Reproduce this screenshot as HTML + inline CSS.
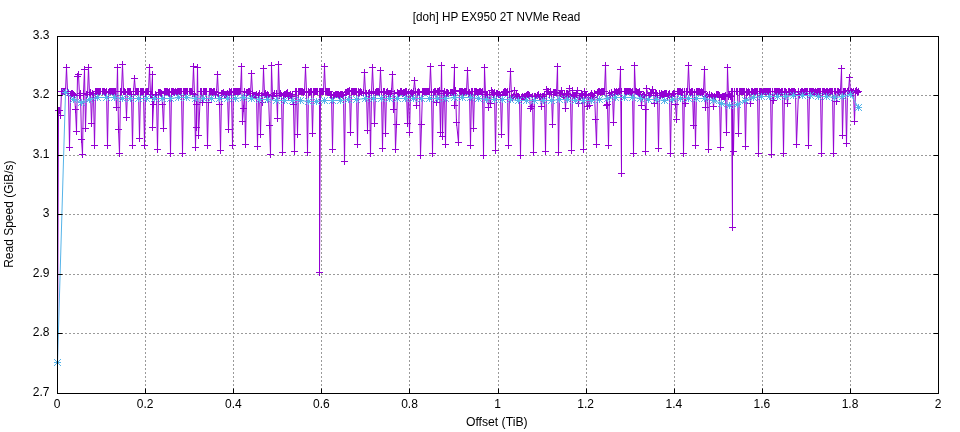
<!DOCTYPE html>
<html>
<head>
<meta charset="utf-8">
<title>[doh] HP EX950 2T NVMe Read</title>
<style>
html, body { margin: 0; padding: 0; background: #fff; }
body { width: 960px; height: 432px; overflow: hidden; font-family: "Liberation Sans", sans-serif; }
svg { display: block; will-change: transform; }
</style>
</head>
<body>
<svg width="960" height="432" viewBox="0 0 960 432">
<rect width="960" height="432" fill="#fff"/>
<path d="M145.5 394.0V36.5M233.5 394.0V36.5M321.5 394.0V36.5M409.5 394.0V36.5M498.5 394.0V36.5M586.5 394.0V36.5M674.5 394.0V36.5M762.5 394.0V36.5M850.5 394.0V36.5" stroke="#9a9a9a" stroke-width="1" stroke-dasharray="2 2" fill="none"/>
<path d="M57.0 333.5H938.5M57.0 274.5H938.5M57.0 214.5H938.5M57.0 155.5H938.5M57.0 95.5H938.5" stroke="#9a9a9a" stroke-width="1" stroke-dasharray="2 2" fill="none"/>
<path d="M57.5 362.5L58.5 110.5L59.5 110.5L60.5 115.5L61.5 91.5L62.5 91.5L63.5 91.5L64.5 91.5L65.5 91.5L66.5 67.5L67.5 91.5L68.5 93.5L69.5 147.5L70.5 95.5L71.5 93.5L72.5 93.5L73.5 94.5L74.5 95.5L75.5 109.5L76.5 131.5L77.5 76.5L78.5 74.5L79.5 95.5L80.5 93.5L81.5 139.5L82.5 154.5L83.5 93.5L84.5 69.5L85.5 128.5L86.5 94.5L87.5 94.5L88.5 67.5L89.5 94.5L90.5 92.5L91.5 123.5L92.5 93.5L93.5 94.5L94.5 145.5L95.5 91.5L96.5 91.5L97.5 91.5L98.5 91.5L99.5 91.5L100.5 91.5L102.5 91.5L103.5 91.5L104.5 91.5L105.5 92.5L106.5 91.5L107.5 145.5L108.5 92.5L109.5 91.5L110.5 91.5L111.5 91.5L112.5 91.5L113.5 91.5L114.5 91.5L115.5 91.5L116.5 107.5L117.5 67.5L118.5 129.5L119.5 153.5L120.5 91.5L121.5 91.5L122.5 64.5L123.5 91.5L124.5 91.5L125.5 92.5L126.5 117.5L127.5 91.5L128.5 91.5L129.5 91.5L130.5 91.5L131.5 94.5L132.5 145.5L133.5 91.5L134.5 78.5L135.5 91.5L136.5 91.5L137.5 91.5L138.5 91.5L139.5 138.5L140.5 91.5L141.5 91.5L142.5 91.5L143.5 91.5L144.5 145.5L145.5 92.5L146.5 91.5L147.5 91.5L148.5 91.5L149.5 67.5L150.5 94.5L151.5 94.5L152.5 74.5L152.5 127.5L153.5 104.5L155.5 94.5L156.5 95.5L157.5 149.5L158.5 92.5L159.5 92.5L160.5 92.5L161.5 93.5L162.5 104.5L163.5 128.5L164.5 91.5L165.5 91.5L166.5 91.5L167.5 91.5L168.5 92.5L169.5 91.5L170.5 153.5L171.5 91.5L172.5 91.5L173.5 91.5L174.5 92.5L175.5 91.5L176.5 92.5L177.5 91.5L178.5 91.5L179.5 91.5L180.5 91.5L181.5 91.5L182.5 153.5L183.5 91.5L184.5 91.5L185.5 91.5L186.5 91.5L187.5 91.5L189.5 91.5L190.5 91.5L191.5 91.5L192.5 93.5L193.5 66.5L194.5 94.5L195.5 147.5L196.5 104.5L196.5 127.5L197.5 67.5L198.5 135.5L200.5 91.5L201.5 91.5L202.5 102.5L203.5 91.5L204.5 91.5L205.5 91.5L206.5 91.5L207.5 145.5L208.5 102.5L209.5 91.5L210.5 91.5L211.5 91.5L212.5 92.5L213.5 91.5L214.5 91.5L215.5 94.5L216.5 92.5L217.5 74.5L218.5 95.5L219.5 104.5L220.5 150.5L221.5 93.5L222.5 93.5L223.5 92.5L224.5 94.5L225.5 94.5L226.5 95.5L227.5 93.5L228.5 129.5L229.5 91.5L230.5 92.5L231.5 91.5L232.5 145.5L233.5 91.5L234.5 91.5L235.5 91.5L236.5 91.5L237.5 91.5L238.5 91.5L239.5 91.5L240.5 91.5L241.5 66.5L242.5 121.5L243.5 108.5L244.5 91.5L245.5 144.5L246.5 92.5L247.5 92.5L248.5 91.5L249.5 91.5L250.5 93.5L251.5 73.5L252.5 93.5L253.5 95.5L254.5 95.5L255.5 95.5L256.5 94.5L257.5 146.5L258.5 95.5L259.5 93.5L260.5 134.5L261.5 95.5L262.5 102.5L263.5 68.5L264.5 94.5L265.5 93.5L266.5 95.5L267.5 94.5L268.5 95.5L269.5 125.5L270.5 154.5L271.5 65.5L272.5 96.5L273.5 95.5L274.5 93.5L276.5 93.5L277.5 118.5L278.5 64.5L279.5 95.5L280.5 93.5L281.5 95.5L282.5 152.5L283.5 95.5L284.5 94.5L285.5 94.5L286.5 93.5L287.5 92.5L288.5 96.5L289.5 95.5L290.5 94.5L291.5 96.5L292.5 94.5L293.5 104.5L294.5 151.5L295.5 91.5L296.5 91.5L297.5 134.5L298.5 91.5L299.5 91.5L300.5 91.5L301.5 91.5L302.5 91.5L303.5 92.5L304.5 91.5L305.5 67.5L306.5 91.5L307.5 152.5L308.5 91.5L309.5 92.5L310.5 91.5L311.5 91.5L312.5 133.5L313.5 91.5L314.5 91.5L315.5 91.5L316.5 91.5L317.5 91.5L319.5 91.5L319.5 272.5L320.5 91.5L321.5 91.5L322.5 91.5L323.5 91.5L324.5 66.5L325.5 91.5L326.5 91.5L327.5 91.5L328.5 91.5L329.5 91.5L330.5 95.5L331.5 94.5L332.5 149.5L333.5 95.5L334.5 95.5L335.5 94.5L336.5 94.5L337.5 94.5L338.5 94.5L339.5 95.5L340.5 94.5L341.5 94.5L342.5 94.5L343.5 95.5L344.5 161.5L345.5 92.5L346.5 92.5L347.5 91.5L348.5 91.5L349.5 90.5L350.5 132.5L351.5 91.5L352.5 91.5L353.5 91.5L354.5 91.5L355.5 91.5L356.5 91.5L357.5 144.5L358.5 91.5L359.5 92.5L360.5 91.5L361.5 92.5L363.5 92.5L364.5 72.5L365.5 93.5L366.5 93.5L367.5 130.5L368.5 93.5L369.5 92.5L370.5 153.5L371.5 93.5L372.5 67.5L373.5 91.5L374.5 123.5L375.5 92.5L376.5 91.5L377.5 91.5L378.5 91.5L379.5 92.5L380.5 70.5L381.5 92.5L382.5 148.5L383.5 91.5L384.5 91.5L385.5 133.5L386.5 92.5L387.5 91.5L388.5 93.5L389.5 93.5L390.5 93.5L391.5 91.5L392.5 74.5L393.5 109.5L394.5 93.5L395.5 149.5L396.5 124.5L397.5 92.5L398.5 93.5L399.5 93.5L400.5 91.5L401.5 91.5L402.5 93.5L403.5 92.5L404.5 92.5L405.5 91.5L406.5 91.5L407.5 123.5L408.5 92.5L409.5 132.5L410.5 93.5L411.5 92.5L412.5 93.5L413.5 91.5L414.5 80.5L415.5 91.5L416.5 105.5L417.5 92.5L418.5 91.5L419.5 92.5L420.5 155.5L421.5 124.5L422.5 91.5L423.5 91.5L424.5 91.5L425.5 91.5L426.5 91.5L427.5 91.5L428.5 91.5L429.5 91.5L430.5 66.5L431.5 92.5L432.5 153.5L433.5 92.5L434.5 91.5L435.5 91.5L436.5 102.5L437.5 91.5L438.5 91.5L439.5 90.5L440.5 132.5L441.5 65.5L442.5 136.5L443.5 93.5L444.5 91.5L445.5 144.5L446.5 92.5L447.5 92.5L448.5 93.5L450.5 92.5L451.5 92.5L452.5 92.5L453.5 93.5L454.5 67.5L454.5 105.5L455.5 90.5L456.5 122.5L458.5 142.5L459.5 91.5L460.5 91.5L461.5 91.5L462.5 91.5L463.5 92.5L464.5 91.5L465.5 91.5L466.5 91.5L467.5 70.5L468.5 93.5L469.5 92.5L470.5 145.5L471.5 91.5L472.5 91.5L473.5 128.5L474.5 91.5L475.5 91.5L476.5 91.5L477.5 92.5L478.5 92.5L479.5 91.5L480.5 91.5L481.5 92.5L482.5 91.5L483.5 155.5L484.5 67.5L485.5 94.5L486.5 94.5L487.5 94.5L488.5 107.5L489.5 94.5L490.5 103.5L491.5 90.5L492.5 92.5L493.5 94.5L494.5 92.5L495.5 150.5L496.5 93.5L497.5 93.5L498.5 94.5L499.5 94.5L500.5 95.5L501.5 134.5L502.5 95.5L503.5 92.5L504.5 91.5L505.5 91.5L506.5 92.5L507.5 91.5L508.5 145.5L509.5 91.5L510.5 71.5L511.5 97.5L512.5 97.5L513.5 96.5L514.5 90.5L515.5 97.5L516.5 94.5L517.5 96.5L518.5 96.5L519.5 97.5L520.5 155.5L521.5 97.5L522.5 96.5L523.5 97.5L524.5 96.5L525.5 96.5L526.5 95.5L527.5 94.5L528.5 94.5L529.5 95.5L530.5 108.5L531.5 106.5L532.5 96.5L533.5 152.5L534.5 96.5L535.5 96.5L537.5 95.5L538.5 94.5L539.5 97.5L540.5 96.5L541.5 106.5L542.5 96.5L543.5 96.5L544.5 94.5L545.5 151.5L546.5 89.5L547.5 91.5L548.5 91.5L549.5 94.5L550.5 91.5L551.5 94.5L552.5 124.5L553.5 92.5L554.5 92.5L555.5 92.5L556.5 93.5L557.5 66.5L558.5 152.5L559.5 93.5L560.5 93.5L561.5 90.5L562.5 94.5L563.5 96.5L564.5 94.5L565.5 108.5L566.5 93.5L567.5 93.5L568.5 94.5L569.5 88.5L570.5 96.5L571.5 150.5L572.5 90.5L573.5 95.5L574.5 95.5L575.5 95.5L576.5 93.5L577.5 90.5L578.5 103.5L579.5 97.5L580.5 97.5L581.5 93.5L582.5 95.5L583.5 149.5L584.5 91.5L585.5 95.5L586.5 94.5L587.5 106.5L588.5 97.5L589.5 105.5L590.5 95.5L591.5 93.5L592.5 95.5L593.5 97.5L594.5 93.5L595.5 119.5L596.5 144.5L597.5 92.5L598.5 91.5L599.5 91.5L600.5 92.5L601.5 91.5L602.5 91.5L603.5 91.5L604.5 91.5L605.5 65.5L606.5 105.5L607.5 104.5L608.5 145.5L609.5 93.5L610.5 95.5L611.5 92.5L612.5 94.5L613.5 122.5L614.5 91.5L615.5 92.5L616.5 91.5L617.5 92.5L618.5 91.5L619.5 91.5L620.5 69.5L621.5 173.5L621.5 91.5L624.5 91.5L625.5 91.5L626.5 91.5L627.5 91.5L628.5 91.5L629.5 91.5L630.5 91.5L631.5 92.5L632.5 91.5L633.5 153.5L634.5 65.5L635.5 91.5L636.5 91.5L637.5 92.5L638.5 92.5L639.5 91.5L640.5 95.5L641.5 105.5L642.5 96.5L643.5 94.5L644.5 95.5L645.5 109.5L645.5 151.5L646.5 88.5L648.5 95.5L649.5 95.5L650.5 93.5L651.5 92.5L652.5 89.5L653.5 93.5L654.5 103.5L655.5 93.5L656.5 93.5L657.5 95.5L658.5 148.5L659.5 93.5L660.5 95.5L661.5 93.5L662.5 94.5L663.5 94.5L664.5 93.5L665.5 93.5L666.5 93.5L667.5 96.5L668.5 94.5L669.5 93.5L670.5 153.5L671.5 96.5L672.5 94.5L673.5 93.5L674.5 93.5L675.5 104.5L676.5 119.5L677.5 91.5L678.5 91.5L679.5 91.5L680.5 91.5L681.5 92.5L682.5 91.5L683.5 153.5L684.5 91.5L685.5 103.5L686.5 91.5L687.5 91.5L688.5 65.5L689.5 91.5L690.5 92.5L691.5 91.5L692.5 91.5L693.5 125.5L694.5 92.5L695.5 145.5L696.5 91.5L697.5 91.5L698.5 91.5L699.5 91.5L700.5 92.5L701.5 91.5L702.5 92.5L703.5 91.5L704.5 69.5L705.5 107.5L706.5 96.5L707.5 95.5L708.5 149.5L709.5 94.5L711.5 95.5L712.5 96.5L713.5 106.5L714.5 96.5L715.5 97.5L716.5 94.5L717.5 94.5L718.5 94.5L719.5 95.5L720.5 147.5L721.5 97.5L722.5 96.5L723.5 96.5L724.5 96.5L725.5 95.5L726.5 132.5L727.5 67.5L728.5 96.5L729.5 94.5L730.5 96.5L731.5 91.5L732.5 227.5L732.5 91.5L733.5 151.5L734.5 91.5L736.5 91.5L737.5 91.5L738.5 133.5L739.5 91.5L740.5 91.5L741.5 91.5L742.5 91.5L743.5 91.5L744.5 91.5L745.5 146.5L746.5 91.5L747.5 92.5L748.5 91.5L749.5 92.5L750.5 103.5L751.5 91.5L752.5 91.5L753.5 92.5L754.5 91.5L755.5 91.5L756.5 91.5L757.5 91.5L758.5 153.5L759.5 91.5L760.5 91.5L761.5 91.5L762.5 92.5L763.5 91.5L764.5 91.5L765.5 91.5L766.5 91.5L767.5 91.5L768.5 91.5L769.5 91.5L770.5 91.5L771.5 154.5L772.5 91.5L773.5 100.5L774.5 91.5L775.5 91.5L776.5 91.5L777.5 91.5L778.5 91.5L779.5 91.5L780.5 92.5L781.5 91.5L782.5 91.5L783.5 153.5L784.5 91.5L785.5 91.5L786.5 92.5L787.5 103.5L788.5 91.5L789.5 91.5L790.5 92.5L791.5 91.5L792.5 91.5L793.5 91.5L794.5 91.5L795.5 92.5L796.5 144.5L798.5 91.5L799.5 94.5L800.5 92.5L801.5 91.5L802.5 91.5L803.5 92.5L804.5 91.5L805.5 91.5L806.5 91.5L807.5 91.5L808.5 145.5L809.5 91.5L810.5 91.5L811.5 91.5L812.5 91.5L813.5 91.5L814.5 92.5L815.5 91.5L816.5 92.5L817.5 91.5L818.5 91.5L819.5 91.5L820.5 91.5L821.5 153.5L822.5 91.5L823.5 91.5L824.5 91.5L825.5 92.5L826.5 91.5L827.5 91.5L828.5 92.5L829.5 91.5L830.5 91.5L831.5 91.5L832.5 91.5L833.5 153.5L834.5 91.5L835.5 91.5L836.5 101.5L837.5 91.5L838.5 91.5L839.5 92.5L840.5 91.5L841.5 68.5L842.5 135.5L843.5 91.5L844.5 91.5L845.5 91.5L846.5 143.5L847.5 91.5L848.5 90.5L849.5 77.5L850.5 92.5L851.5 91.5L852.5 92.5L853.5 91.5L854.5 121.5L855.5 91.5L856.5 90.5L857.5 92.5L858.5 91.5" stroke="#9400d3" stroke-width="1" fill="none" stroke-linejoin="round"/>
<path d="M54 362.5h7M57.5 359v7M55 110.5h7M58.5 107v7M56 110.5h7M59.5 107v7M57 115.5h7M60.5 112v7M58 91.5h7M61.5 88v7M59 91.5h7M62.5 88v7M60 91.5h7M63.5 88v7M61 91.5h7M64.5 88v7M62 91.5h7M65.5 88v7M63 67.5h7M66.5 64v7M64 91.5h7M67.5 88v7M65 93.5h7M68.5 90v7M66 147.5h7M69.5 144v7M67 95.5h7M70.5 92v7M68 93.5h7M71.5 90v7M69 93.5h7M72.5 90v7M70 94.5h7M73.5 91v7M71 95.5h7M74.5 92v7M72 109.5h7M75.5 106v7M73 131.5h7M76.5 128v7M74 76.5h7M77.5 73v7M75 74.5h7M78.5 71v7M76 95.5h7M79.5 92v7M77 93.5h7M80.5 90v7M78 139.5h7M81.5 136v7M79 154.5h7M82.5 151v7M80 93.5h7M83.5 90v7M81 69.5h7M84.5 66v7M82 128.5h7M85.5 125v7M83 94.5h7M86.5 91v7M84 94.5h7M87.5 91v7M85 67.5h7M88.5 64v7M86 94.5h7M89.5 91v7M87 92.5h7M90.5 89v7M88 123.5h7M91.5 120v7M89 93.5h7M92.5 90v7M90 94.5h7M93.5 91v7M91 145.5h7M94.5 142v7M92 91.5h7M95.5 88v7M93 91.5h7M96.5 88v7M94 91.5h7M97.5 88v7M95 91.5h7M98.5 88v7M96 91.5h7M99.5 88v7M97 91.5h7M100.5 88v7M99 91.5h7M102.5 88v7M100 91.5h7M103.5 88v7M101 91.5h7M104.5 88v7M102 92.5h7M105.5 89v7M103 91.5h7M106.5 88v7M104 145.5h7M107.5 142v7M105 92.5h7M108.5 89v7M106 91.5h7M109.5 88v7M107 91.5h7M110.5 88v7M108 91.5h7M111.5 88v7M109 91.5h7M112.5 88v7M110 91.5h7M113.5 88v7M111 91.5h7M114.5 88v7M112 91.5h7M115.5 88v7M113 107.5h7M116.5 104v7M114 67.5h7M117.5 64v7M115 129.5h7M118.5 126v7M116 153.5h7M119.5 150v7M117 91.5h7M120.5 88v7M118 91.5h7M121.5 88v7M119 64.5h7M122.5 61v7M120 91.5h7M123.5 88v7M121 91.5h7M124.5 88v7M122 92.5h7M125.5 89v7M123 117.5h7M126.5 114v7M124 91.5h7M127.5 88v7M125 91.5h7M128.5 88v7M126 91.5h7M129.5 88v7M127 91.5h7M130.5 88v7M128 94.5h7M131.5 91v7M129 145.5h7M132.5 142v7M130 91.5h7M133.5 88v7M131 78.5h7M134.5 75v7M132 91.5h7M135.5 88v7M133 91.5h7M136.5 88v7M134 91.5h7M137.5 88v7M135 91.5h7M138.5 88v7M136 138.5h7M139.5 135v7M137 91.5h7M140.5 88v7M138 91.5h7M141.5 88v7M139 91.5h7M142.5 88v7M140 91.5h7M143.5 88v7M141 145.5h7M144.5 142v7M142 92.5h7M145.5 89v7M143 91.5h7M146.5 88v7M144 91.5h7M147.5 88v7M145 91.5h7M148.5 88v7M146 67.5h7M149.5 64v7M147 94.5h7M150.5 91v7M148 94.5h7M151.5 91v7M149 74.5h7M152.5 71v7M149 127.5h7M152.5 124v7M150 104.5h7M153.5 101v7M152 94.5h7M155.5 91v7M153 95.5h7M156.5 92v7M154 149.5h7M157.5 146v7M155 92.5h7M158.5 89v7M156 92.5h7M159.5 89v7M157 92.5h7M160.5 89v7M158 93.5h7M161.5 90v7M159 104.5h7M162.5 101v7M160 128.5h7M163.5 125v7M161 91.5h7M164.5 88v7M162 91.5h7M165.5 88v7M163 91.5h7M166.5 88v7M164 91.5h7M167.5 88v7M165 92.5h7M168.5 89v7M166 91.5h7M169.5 88v7M167 153.5h7M170.5 150v7M168 91.5h7M171.5 88v7M169 91.5h7M172.5 88v7M170 91.5h7M173.5 88v7M171 92.5h7M174.5 89v7M172 91.5h7M175.5 88v7M173 92.5h7M176.5 89v7M174 91.5h7M177.5 88v7M175 91.5h7M178.5 88v7M176 91.5h7M179.5 88v7M177 91.5h7M180.5 88v7M178 91.5h7M181.5 88v7M179 153.5h7M182.5 150v7M180 91.5h7M183.5 88v7M181 91.5h7M184.5 88v7M182 91.5h7M185.5 88v7M183 91.5h7M186.5 88v7M184 91.5h7M187.5 88v7M186 91.5h7M189.5 88v7M187 91.5h7M190.5 88v7M188 91.5h7M191.5 88v7M189 93.5h7M192.5 90v7M190 66.5h7M193.5 63v7M191 94.5h7M194.5 91v7M192 147.5h7M195.5 144v7M193 104.5h7M196.5 101v7M193 127.5h7M196.5 124v7M194 67.5h7M197.5 64v7M195 135.5h7M198.5 132v7M197 91.5h7M200.5 88v7M198 91.5h7M201.5 88v7M199 102.5h7M202.5 99v7M200 91.5h7M203.5 88v7M201 91.5h7M204.5 88v7M202 91.5h7M205.5 88v7M203 91.5h7M206.5 88v7M204 145.5h7M207.5 142v7M205 102.5h7M208.5 99v7M206 91.5h7M209.5 88v7M207 91.5h7M210.5 88v7M208 91.5h7M211.5 88v7M209 92.5h7M212.5 89v7M210 91.5h7M213.5 88v7M211 91.5h7M214.5 88v7M212 94.5h7M215.5 91v7M213 92.5h7M216.5 89v7M214 74.5h7M217.5 71v7M215 95.5h7M218.5 92v7M216 104.5h7M219.5 101v7M217 150.5h7M220.5 147v7M218 93.5h7M221.5 90v7M219 93.5h7M222.5 90v7M220 92.5h7M223.5 89v7M221 94.5h7M224.5 91v7M222 94.5h7M225.5 91v7M223 95.5h7M226.5 92v7M224 93.5h7M227.5 90v7M225 129.5h7M228.5 126v7M226 91.5h7M229.5 88v7M227 92.5h7M230.5 89v7M228 91.5h7M231.5 88v7M229 145.5h7M232.5 142v7M230 91.5h7M233.5 88v7M231 91.5h7M234.5 88v7M232 91.5h7M235.5 88v7M233 91.5h7M236.5 88v7M234 91.5h7M237.5 88v7M235 91.5h7M238.5 88v7M236 91.5h7M239.5 88v7M237 91.5h7M240.5 88v7M238 66.5h7M241.5 63v7M239 121.5h7M242.5 118v7M240 108.5h7M243.5 105v7M241 91.5h7M244.5 88v7M242 144.5h7M245.5 141v7M243 92.5h7M246.5 89v7M244 92.5h7M247.5 89v7M245 91.5h7M248.5 88v7M246 91.5h7M249.5 88v7M247 93.5h7M250.5 90v7M248 73.5h7M251.5 70v7M249 93.5h7M252.5 90v7M250 95.5h7M253.5 92v7M251 95.5h7M254.5 92v7M252 95.5h7M255.5 92v7M253 94.5h7M256.5 91v7M254 146.5h7M257.5 143v7M255 95.5h7M258.5 92v7M256 93.5h7M259.5 90v7M257 134.5h7M260.5 131v7M258 95.5h7M261.5 92v7M259 102.5h7M262.5 99v7M260 68.5h7M263.5 65v7M261 94.5h7M264.5 91v7M262 93.5h7M265.5 90v7M263 95.5h7M266.5 92v7M264 94.5h7M267.5 91v7M265 95.5h7M268.5 92v7M266 125.5h7M269.5 122v7M267 154.5h7M270.5 151v7M268 65.5h7M271.5 62v7M269 96.5h7M272.5 93v7M270 95.5h7M273.5 92v7M271 93.5h7M274.5 90v7M273 93.5h7M276.5 90v7M274 118.5h7M277.5 115v7M275 64.5h7M278.5 61v7M276 95.5h7M279.5 92v7M277 93.5h7M280.5 90v7M278 95.5h7M281.5 92v7M279 152.5h7M282.5 149v7M280 95.5h7M283.5 92v7M281 94.5h7M284.5 91v7M282 94.5h7M285.5 91v7M283 93.5h7M286.5 90v7M284 92.5h7M287.5 89v7M285 96.5h7M288.5 93v7M286 95.5h7M289.5 92v7M287 94.5h7M290.5 91v7M288 96.5h7M291.5 93v7M289 94.5h7M292.5 91v7M290 104.5h7M293.5 101v7M291 151.5h7M294.5 148v7M292 91.5h7M295.5 88v7M293 91.5h7M296.5 88v7M294 134.5h7M297.5 131v7M295 91.5h7M298.5 88v7M296 91.5h7M299.5 88v7M297 91.5h7M300.5 88v7M298 91.5h7M301.5 88v7M299 91.5h7M302.5 88v7M300 92.5h7M303.5 89v7M301 91.5h7M304.5 88v7M302 67.5h7M305.5 64v7M303 91.5h7M306.5 88v7M304 152.5h7M307.5 149v7M305 91.5h7M308.5 88v7M306 92.5h7M309.5 89v7M307 91.5h7M310.5 88v7M308 91.5h7M311.5 88v7M309 133.5h7M312.5 130v7M310 91.5h7M313.5 88v7M311 91.5h7M314.5 88v7M312 91.5h7M315.5 88v7M313 91.5h7M316.5 88v7M314 91.5h7M317.5 88v7M316 91.5h7M319.5 88v7M316 272.5h7M319.5 269v7M317 91.5h7M320.5 88v7M318 91.5h7M321.5 88v7M319 91.5h7M322.5 88v7M320 91.5h7M323.5 88v7M321 66.5h7M324.5 63v7M322 91.5h7M325.5 88v7M323 91.5h7M326.5 88v7M324 91.5h7M327.5 88v7M325 91.5h7M328.5 88v7M326 91.5h7M329.5 88v7M327 95.5h7M330.5 92v7M328 94.5h7M331.5 91v7M329 149.5h7M332.5 146v7M330 95.5h7M333.5 92v7M331 95.5h7M334.5 92v7M332 94.5h7M335.5 91v7M333 94.5h7M336.5 91v7M334 94.5h7M337.5 91v7M335 94.5h7M338.5 91v7M336 95.5h7M339.5 92v7M337 94.5h7M340.5 91v7M338 94.5h7M341.5 91v7M339 94.5h7M342.5 91v7M340 95.5h7M343.5 92v7M341 161.5h7M344.5 158v7M342 92.5h7M345.5 89v7M343 92.5h7M346.5 89v7M344 91.5h7M347.5 88v7M345 91.5h7M348.5 88v7M346 90.5h7M349.5 87v7M347 132.5h7M350.5 129v7M348 91.5h7M351.5 88v7M349 91.5h7M352.5 88v7M350 91.5h7M353.5 88v7M351 91.5h7M354.5 88v7M352 91.5h7M355.5 88v7M353 91.5h7M356.5 88v7M354 144.5h7M357.5 141v7M355 91.5h7M358.5 88v7M356 92.5h7M359.5 89v7M357 91.5h7M360.5 88v7M358 92.5h7M361.5 89v7M360 92.5h7M363.5 89v7M361 72.5h7M364.5 69v7M362 93.5h7M365.5 90v7M363 93.5h7M366.5 90v7M364 130.5h7M367.5 127v7M365 93.5h7M368.5 90v7M366 92.5h7M369.5 89v7M367 153.5h7M370.5 150v7M368 93.5h7M371.5 90v7M369 67.5h7M372.5 64v7M370 91.5h7M373.5 88v7M371 123.5h7M374.5 120v7M372 92.5h7M375.5 89v7M373 91.5h7M376.5 88v7M374 91.5h7M377.5 88v7M375 91.5h7M378.5 88v7M376 92.5h7M379.5 89v7M377 70.5h7M380.5 67v7M378 92.5h7M381.5 89v7M379 148.5h7M382.5 145v7M380 91.5h7M383.5 88v7M381 91.5h7M384.5 88v7M382 133.5h7M385.5 130v7M383 92.5h7M386.5 89v7M384 91.5h7M387.5 88v7M385 93.5h7M388.5 90v7M386 93.5h7M389.5 90v7M387 93.5h7M390.5 90v7M388 91.5h7M391.5 88v7M389 74.5h7M392.5 71v7M390 109.5h7M393.5 106v7M391 93.5h7M394.5 90v7M392 149.5h7M395.5 146v7M393 124.5h7M396.5 121v7M394 92.5h7M397.5 89v7M395 93.5h7M398.5 90v7M396 93.5h7M399.5 90v7M397 91.5h7M400.5 88v7M398 91.5h7M401.5 88v7M399 93.5h7M402.5 90v7M400 92.5h7M403.5 89v7M401 92.5h7M404.5 89v7M402 91.5h7M405.5 88v7M403 91.5h7M406.5 88v7M404 123.5h7M407.5 120v7M405 92.5h7M408.5 89v7M406 132.5h7M409.5 129v7M407 93.5h7M410.5 90v7M408 92.5h7M411.5 89v7M409 93.5h7M412.5 90v7M410 91.5h7M413.5 88v7M411 80.5h7M414.5 77v7M412 91.5h7M415.5 88v7M413 105.5h7M416.5 102v7M414 92.5h7M417.5 89v7M415 91.5h7M418.5 88v7M416 92.5h7M419.5 89v7M417 155.5h7M420.5 152v7M418 124.5h7M421.5 121v7M419 91.5h7M422.5 88v7M420 91.5h7M423.5 88v7M421 91.5h7M424.5 88v7M422 91.5h7M425.5 88v7M423 91.5h7M426.5 88v7M424 91.5h7M427.5 88v7M425 91.5h7M428.5 88v7M426 91.5h7M429.5 88v7M427 66.5h7M430.5 63v7M428 92.5h7M431.5 89v7M429 153.5h7M432.5 150v7M430 92.5h7M433.5 89v7M431 91.5h7M434.5 88v7M432 91.5h7M435.5 88v7M433 102.5h7M436.5 99v7M434 91.5h7M437.5 88v7M435 91.5h7M438.5 88v7M436 90.5h7M439.5 87v7M437 132.5h7M440.5 129v7M438 65.5h7M441.5 62v7M439 136.5h7M442.5 133v7M440 93.5h7M443.5 90v7M441 91.5h7M444.5 88v7M442 144.5h7M445.5 141v7M443 92.5h7M446.5 89v7M444 92.5h7M447.5 89v7M445 93.5h7M448.5 90v7M447 92.5h7M450.5 89v7M448 92.5h7M451.5 89v7M449 92.5h7M452.5 89v7M450 93.5h7M453.5 90v7M451 67.5h7M454.5 64v7M451 105.5h7M454.5 102v7M452 90.5h7M455.5 87v7M453 122.5h7M456.5 119v7M455 142.5h7M458.5 139v7M456 91.5h7M459.5 88v7M457 91.5h7M460.5 88v7M458 91.5h7M461.5 88v7M459 91.5h7M462.5 88v7M460 92.5h7M463.5 89v7M461 91.5h7M464.5 88v7M462 91.5h7M465.5 88v7M463 91.5h7M466.5 88v7M464 70.5h7M467.5 67v7M465 93.5h7M468.5 90v7M466 92.5h7M469.5 89v7M467 145.5h7M470.5 142v7M468 91.5h7M471.5 88v7M469 91.5h7M472.5 88v7M470 128.5h7M473.5 125v7M471 91.5h7M474.5 88v7M472 91.5h7M475.5 88v7M473 91.5h7M476.5 88v7M474 92.5h7M477.5 89v7M475 92.5h7M478.5 89v7M476 91.5h7M479.5 88v7M477 91.5h7M480.5 88v7M478 92.5h7M481.5 89v7M479 91.5h7M482.5 88v7M480 155.5h7M483.5 152v7M481 67.5h7M484.5 64v7M482 94.5h7M485.5 91v7M483 94.5h7M486.5 91v7M484 94.5h7M487.5 91v7M485 107.5h7M488.5 104v7M486 94.5h7M489.5 91v7M487 103.5h7M490.5 100v7M488 90.5h7M491.5 87v7M489 92.5h7M492.5 89v7M490 94.5h7M493.5 91v7M491 92.5h7M494.5 89v7M492 150.5h7M495.5 147v7M493 93.5h7M496.5 90v7M494 93.5h7M497.5 90v7M495 94.5h7M498.5 91v7M496 94.5h7M499.5 91v7M497 95.5h7M500.5 92v7M498 134.5h7M501.5 131v7M499 95.5h7M502.5 92v7M500 92.5h7M503.5 89v7M501 91.5h7M504.5 88v7M502 91.5h7M505.5 88v7M503 92.5h7M506.5 89v7M504 91.5h7M507.5 88v7M505 145.5h7M508.5 142v7M506 91.5h7M509.5 88v7M507 71.5h7M510.5 68v7M508 97.5h7M511.5 94v7M509 97.5h7M512.5 94v7M510 96.5h7M513.5 93v7M511 90.5h7M514.5 87v7M512 97.5h7M515.5 94v7M513 94.5h7M516.5 91v7M514 96.5h7M517.5 93v7M515 96.5h7M518.5 93v7M516 97.5h7M519.5 94v7M517 155.5h7M520.5 152v7M518 97.5h7M521.5 94v7M519 96.5h7M522.5 93v7M520 97.5h7M523.5 94v7M521 96.5h7M524.5 93v7M522 96.5h7M525.5 93v7M523 95.5h7M526.5 92v7M524 94.5h7M527.5 91v7M525 94.5h7M528.5 91v7M526 95.5h7M529.5 92v7M527 108.5h7M530.5 105v7M528 106.5h7M531.5 103v7M529 96.5h7M532.5 93v7M530 152.5h7M533.5 149v7M531 96.5h7M534.5 93v7M532 96.5h7M535.5 93v7M534 95.5h7M537.5 92v7M535 94.5h7M538.5 91v7M536 97.5h7M539.5 94v7M537 96.5h7M540.5 93v7M538 106.5h7M541.5 103v7M539 96.5h7M542.5 93v7M540 96.5h7M543.5 93v7M541 94.5h7M544.5 91v7M542 151.5h7M545.5 148v7M543 89.5h7M546.5 86v7M544 91.5h7M547.5 88v7M545 91.5h7M548.5 88v7M546 94.5h7M549.5 91v7M547 91.5h7M550.5 88v7M548 94.5h7M551.5 91v7M549 124.5h7M552.5 121v7M550 92.5h7M553.5 89v7M551 92.5h7M554.5 89v7M552 92.5h7M555.5 89v7M553 93.5h7M556.5 90v7M554 66.5h7M557.5 63v7M555 152.5h7M558.5 149v7M556 93.5h7M559.5 90v7M557 93.5h7M560.5 90v7M558 90.5h7M561.5 87v7M559 94.5h7M562.5 91v7M560 96.5h7M563.5 93v7M561 94.5h7M564.5 91v7M562 108.5h7M565.5 105v7M563 93.5h7M566.5 90v7M564 93.5h7M567.5 90v7M565 94.5h7M568.5 91v7M566 88.5h7M569.5 85v7M567 96.5h7M570.5 93v7M568 150.5h7M571.5 147v7M569 90.5h7M572.5 87v7M570 95.5h7M573.5 92v7M571 95.5h7M574.5 92v7M572 95.5h7M575.5 92v7M573 93.5h7M576.5 90v7M574 90.5h7M577.5 87v7M575 103.5h7M578.5 100v7M576 97.5h7M579.5 94v7M577 97.5h7M580.5 94v7M578 93.5h7M581.5 90v7M579 95.5h7M582.5 92v7M580 149.5h7M583.5 146v7M581 91.5h7M584.5 88v7M582 95.5h7M585.5 92v7M583 94.5h7M586.5 91v7M584 106.5h7M587.5 103v7M585 97.5h7M588.5 94v7M586 105.5h7M589.5 102v7M587 95.5h7M590.5 92v7M588 93.5h7M591.5 90v7M589 95.5h7M592.5 92v7M590 97.5h7M593.5 94v7M591 93.5h7M594.5 90v7M592 119.5h7M595.5 116v7M593 144.5h7M596.5 141v7M594 92.5h7M597.5 89v7M595 91.5h7M598.5 88v7M596 91.5h7M599.5 88v7M597 92.5h7M600.5 89v7M598 91.5h7M601.5 88v7M599 91.5h7M602.5 88v7M600 91.5h7M603.5 88v7M601 91.5h7M604.5 88v7M602 65.5h7M605.5 62v7M603 105.5h7M606.5 102v7M604 104.5h7M607.5 101v7M605 145.5h7M608.5 142v7M606 93.5h7M609.5 90v7M607 95.5h7M610.5 92v7M608 92.5h7M611.5 89v7M609 94.5h7M612.5 91v7M610 122.5h7M613.5 119v7M611 91.5h7M614.5 88v7M612 92.5h7M615.5 89v7M613 91.5h7M616.5 88v7M614 92.5h7M617.5 89v7M615 91.5h7M618.5 88v7M616 91.5h7M619.5 88v7M617 69.5h7M620.5 66v7M618 173.5h7M621.5 170v7M618 91.5h7M621.5 88v7M621 91.5h7M624.5 88v7M622 91.5h7M625.5 88v7M623 91.5h7M626.5 88v7M624 91.5h7M627.5 88v7M625 91.5h7M628.5 88v7M626 91.5h7M629.5 88v7M627 91.5h7M630.5 88v7M628 92.5h7M631.5 89v7M629 91.5h7M632.5 88v7M630 153.5h7M633.5 150v7M631 65.5h7M634.5 62v7M632 91.5h7M635.5 88v7M633 91.5h7M636.5 88v7M634 92.5h7M637.5 89v7M635 92.5h7M638.5 89v7M636 91.5h7M639.5 88v7M637 95.5h7M640.5 92v7M638 105.5h7M641.5 102v7M639 96.5h7M642.5 93v7M640 94.5h7M643.5 91v7M641 95.5h7M644.5 92v7M642 109.5h7M645.5 106v7M642 151.5h7M645.5 148v7M643 88.5h7M646.5 85v7M645 95.5h7M648.5 92v7M646 95.5h7M649.5 92v7M647 93.5h7M650.5 90v7M648 92.5h7M651.5 89v7M649 89.5h7M652.5 86v7M650 93.5h7M653.5 90v7M651 103.5h7M654.5 100v7M652 93.5h7M655.5 90v7M653 93.5h7M656.5 90v7M654 95.5h7M657.5 92v7M655 148.5h7M658.5 145v7M656 93.5h7M659.5 90v7M657 95.5h7M660.5 92v7M658 93.5h7M661.5 90v7M659 94.5h7M662.5 91v7M660 94.5h7M663.5 91v7M661 93.5h7M664.5 90v7M662 93.5h7M665.5 90v7M663 93.5h7M666.5 90v7M664 96.5h7M667.5 93v7M665 94.5h7M668.5 91v7M666 93.5h7M669.5 90v7M667 153.5h7M670.5 150v7M668 96.5h7M671.5 93v7M669 94.5h7M672.5 91v7M670 93.5h7M673.5 90v7M671 93.5h7M674.5 90v7M672 104.5h7M675.5 101v7M673 119.5h7M676.5 116v7M674 91.5h7M677.5 88v7M675 91.5h7M678.5 88v7M676 91.5h7M679.5 88v7M677 91.5h7M680.5 88v7M678 92.5h7M681.5 89v7M679 91.5h7M682.5 88v7M680 153.5h7M683.5 150v7M681 91.5h7M684.5 88v7M682 103.5h7M685.5 100v7M683 91.5h7M686.5 88v7M684 91.5h7M687.5 88v7M685 65.5h7M688.5 62v7M686 91.5h7M689.5 88v7M687 92.5h7M690.5 89v7M688 91.5h7M691.5 88v7M689 91.5h7M692.5 88v7M690 125.5h7M693.5 122v7M691 92.5h7M694.5 89v7M692 145.5h7M695.5 142v7M693 91.5h7M696.5 88v7M694 91.5h7M697.5 88v7M695 91.5h7M698.5 88v7M696 91.5h7M699.5 88v7M697 92.5h7M700.5 89v7M698 91.5h7M701.5 88v7M699 92.5h7M702.5 89v7M700 91.5h7M703.5 88v7M701 69.5h7M704.5 66v7M702 107.5h7M705.5 104v7M703 96.5h7M706.5 93v7M704 95.5h7M707.5 92v7M705 149.5h7M708.5 146v7M706 94.5h7M709.5 91v7M708 95.5h7M711.5 92v7M709 96.5h7M712.5 93v7M710 106.5h7M713.5 103v7M711 96.5h7M714.5 93v7M712 97.5h7M715.5 94v7M713 94.5h7M716.5 91v7M714 94.5h7M717.5 91v7M715 94.5h7M718.5 91v7M716 95.5h7M719.5 92v7M717 147.5h7M720.5 144v7M718 97.5h7M721.5 94v7M719 96.5h7M722.5 93v7M720 96.5h7M723.5 93v7M721 96.5h7M724.5 93v7M722 95.5h7M725.5 92v7M723 132.5h7M726.5 129v7M724 67.5h7M727.5 64v7M725 96.5h7M728.5 93v7M726 94.5h7M729.5 91v7M727 96.5h7M730.5 93v7M728 91.5h7M731.5 88v7M729 227.5h7M732.5 224v7M729 91.5h7M732.5 88v7M730 151.5h7M733.5 148v7M731 91.5h7M734.5 88v7M733 91.5h7M736.5 88v7M734 91.5h7M737.5 88v7M735 133.5h7M738.5 130v7M736 91.5h7M739.5 88v7M737 91.5h7M740.5 88v7M738 91.5h7M741.5 88v7M739 91.5h7M742.5 88v7M740 91.5h7M743.5 88v7M741 91.5h7M744.5 88v7M742 146.5h7M745.5 143v7M743 91.5h7M746.5 88v7M744 92.5h7M747.5 89v7M745 91.5h7M748.5 88v7M746 92.5h7M749.5 89v7M747 103.5h7M750.5 100v7M748 91.5h7M751.5 88v7M749 91.5h7M752.5 88v7M750 92.5h7M753.5 89v7M751 91.5h7M754.5 88v7M752 91.5h7M755.5 88v7M753 91.5h7M756.5 88v7M754 91.5h7M757.5 88v7M755 153.5h7M758.5 150v7M756 91.5h7M759.5 88v7M757 91.5h7M760.5 88v7M758 91.5h7M761.5 88v7M759 92.5h7M762.5 89v7M760 91.5h7M763.5 88v7M761 91.5h7M764.5 88v7M762 91.5h7M765.5 88v7M763 91.5h7M766.5 88v7M764 91.5h7M767.5 88v7M765 91.5h7M768.5 88v7M766 91.5h7M769.5 88v7M767 91.5h7M770.5 88v7M768 154.5h7M771.5 151v7M769 91.5h7M772.5 88v7M770 100.5h7M773.5 97v7M771 91.5h7M774.5 88v7M772 91.5h7M775.5 88v7M773 91.5h7M776.5 88v7M774 91.5h7M777.5 88v7M775 91.5h7M778.5 88v7M776 91.5h7M779.5 88v7M777 92.5h7M780.5 89v7M778 91.5h7M781.5 88v7M779 91.5h7M782.5 88v7M780 153.5h7M783.5 150v7M781 91.5h7M784.5 88v7M782 91.5h7M785.5 88v7M783 92.5h7M786.5 89v7M784 103.5h7M787.5 100v7M785 91.5h7M788.5 88v7M786 91.5h7M789.5 88v7M787 92.5h7M790.5 89v7M788 91.5h7M791.5 88v7M789 91.5h7M792.5 88v7M790 91.5h7M793.5 88v7M791 91.5h7M794.5 88v7M792 92.5h7M795.5 89v7M793 144.5h7M796.5 141v7M795 91.5h7M798.5 88v7M796 94.5h7M799.5 91v7M797 92.5h7M800.5 89v7M798 91.5h7M801.5 88v7M799 91.5h7M802.5 88v7M800 92.5h7M803.5 89v7M801 91.5h7M804.5 88v7M802 91.5h7M805.5 88v7M803 91.5h7M806.5 88v7M804 91.5h7M807.5 88v7M805 145.5h7M808.5 142v7M806 91.5h7M809.5 88v7M807 91.5h7M810.5 88v7M808 91.5h7M811.5 88v7M809 91.5h7M812.5 88v7M810 91.5h7M813.5 88v7M811 92.5h7M814.5 89v7M812 91.5h7M815.5 88v7M813 92.5h7M816.5 89v7M814 91.5h7M817.5 88v7M815 91.5h7M818.5 88v7M816 91.5h7M819.5 88v7M817 91.5h7M820.5 88v7M818 153.5h7M821.5 150v7M819 91.5h7M822.5 88v7M820 91.5h7M823.5 88v7M821 91.5h7M824.5 88v7M822 92.5h7M825.5 89v7M823 91.5h7M826.5 88v7M824 91.5h7M827.5 88v7M825 92.5h7M828.5 89v7M826 91.5h7M829.5 88v7M827 91.5h7M830.5 88v7M828 91.5h7M831.5 88v7M829 91.5h7M832.5 88v7M830 153.5h7M833.5 150v7M831 91.5h7M834.5 88v7M832 91.5h7M835.5 88v7M833 101.5h7M836.5 98v7M834 91.5h7M837.5 88v7M835 91.5h7M838.5 88v7M836 92.5h7M839.5 89v7M837 91.5h7M840.5 88v7M838 68.5h7M841.5 65v7M839 135.5h7M842.5 132v7M840 91.5h7M843.5 88v7M841 91.5h7M844.5 88v7M842 91.5h7M845.5 88v7M843 143.5h7M846.5 140v7M844 91.5h7M847.5 88v7M845 90.5h7M848.5 87v7M846 77.5h7M849.5 74v7M847 92.5h7M850.5 89v7M848 91.5h7M851.5 88v7M849 92.5h7M852.5 89v7M850 91.5h7M853.5 88v7M851 121.5h7M854.5 118v7M852 91.5h7M855.5 88v7M853 90.5h7M856.5 87v7M854 92.5h7M857.5 89v7M855 91.5h7M858.5 88v7" stroke="#9400d3" stroke-width="1" fill="none"/>
<path d="M57.5 362.5L65.5 92.5L73.5 99.5L81.5 102.5L89.5 99.5L97.5 97.5L106.5 97.5L114.5 97.5L122.5 98.5L130.5 98.5L138.5 98.5L146.5 98.5L154.5 98.5L162.5 98.5L170.5 98.5L178.5 97.5L186.5 97.5L195.5 98.5L203.5 98.5L211.5 98.5L219.5 98.5L227.5 98.5L235.5 98.5L243.5 97.5L251.5 98.5L259.5 99.5L267.5 99.5L276.5 100.5L284.5 100.5L292.5 100.5L300.5 100.5L308.5 101.5L316.5 101.5L324.5 100.5L332.5 100.5L340.5 100.5L348.5 99.5L356.5 99.5L365.5 98.5L373.5 98.5L381.5 98.5L389.5 98.5L397.5 98.5L405.5 98.5L413.5 98.5L421.5 98.5L429.5 98.5L437.5 98.5L445.5 98.5L454.5 97.5L462.5 97.5L470.5 97.5L478.5 98.5L486.5 99.5L494.5 99.5L502.5 99.5L510.5 99.5L518.5 100.5L526.5 100.5L534.5 100.5L543.5 100.5L551.5 100.5L559.5 99.5L567.5 99.5L575.5 100.5L583.5 100.5L591.5 100.5L599.5 99.5L607.5 98.5L615.5 97.5L624.5 97.5L632.5 97.5L640.5 98.5L648.5 99.5L656.5 99.5L664.5 100.5L672.5 99.5L680.5 98.5L688.5 98.5L696.5 98.5L704.5 98.5L713.5 100.5L721.5 103.5L729.5 105.5L737.5 104.5L745.5 100.5L753.5 97.5L761.5 96.5L769.5 96.5L777.5 96.5L785.5 96.5L793.5 95.5L802.5 95.5L810.5 95.5L818.5 96.5L826.5 96.5L834.5 97.5L842.5 96.5L850.5 94.5L858.5 107.5" stroke="#56b4e9" stroke-width="1" fill="none" stroke-linejoin="round"/>
<path d="M54 362.5h7M57.5 359v7M54 359l7 7M54 366l7 -7M62 92.5h7M65.5 89v7M62 89l7 7M62 96l7 -7M70 99.5h7M73.5 96v7M70 96l7 7M70 103l7 -7M78 102.5h7M81.5 99v7M78 99l7 7M78 106l7 -7M86 99.5h7M89.5 96v7M86 96l7 7M86 103l7 -7M94 97.5h7M97.5 94v7M94 94l7 7M94 101l7 -7M103 97.5h7M106.5 94v7M103 94l7 7M103 101l7 -7M111 97.5h7M114.5 94v7M111 94l7 7M111 101l7 -7M119 98.5h7M122.5 95v7M119 95l7 7M119 102l7 -7M127 98.5h7M130.5 95v7M127 95l7 7M127 102l7 -7M135 98.5h7M138.5 95v7M135 95l7 7M135 102l7 -7M143 98.5h7M146.5 95v7M143 95l7 7M143 102l7 -7M151 98.5h7M154.5 95v7M151 95l7 7M151 102l7 -7M159 98.5h7M162.5 95v7M159 95l7 7M159 102l7 -7M167 98.5h7M170.5 95v7M167 95l7 7M167 102l7 -7M175 97.5h7M178.5 94v7M175 94l7 7M175 101l7 -7M183 97.5h7M186.5 94v7M183 94l7 7M183 101l7 -7M192 98.5h7M195.5 95v7M192 95l7 7M192 102l7 -7M200 98.5h7M203.5 95v7M200 95l7 7M200 102l7 -7M208 98.5h7M211.5 95v7M208 95l7 7M208 102l7 -7M216 98.5h7M219.5 95v7M216 95l7 7M216 102l7 -7M224 98.5h7M227.5 95v7M224 95l7 7M224 102l7 -7M232 98.5h7M235.5 95v7M232 95l7 7M232 102l7 -7M240 97.5h7M243.5 94v7M240 94l7 7M240 101l7 -7M248 98.5h7M251.5 95v7M248 95l7 7M248 102l7 -7M256 99.5h7M259.5 96v7M256 96l7 7M256 103l7 -7M264 99.5h7M267.5 96v7M264 96l7 7M264 103l7 -7M273 100.5h7M276.5 97v7M273 97l7 7M273 104l7 -7M281 100.5h7M284.5 97v7M281 97l7 7M281 104l7 -7M289 100.5h7M292.5 97v7M289 97l7 7M289 104l7 -7M297 100.5h7M300.5 97v7M297 97l7 7M297 104l7 -7M305 101.5h7M308.5 98v7M305 98l7 7M305 105l7 -7M313 101.5h7M316.5 98v7M313 98l7 7M313 105l7 -7M321 100.5h7M324.5 97v7M321 97l7 7M321 104l7 -7M329 100.5h7M332.5 97v7M329 97l7 7M329 104l7 -7M337 100.5h7M340.5 97v7M337 97l7 7M337 104l7 -7M345 99.5h7M348.5 96v7M345 96l7 7M345 103l7 -7M353 99.5h7M356.5 96v7M353 96l7 7M353 103l7 -7M362 98.5h7M365.5 95v7M362 95l7 7M362 102l7 -7M370 98.5h7M373.5 95v7M370 95l7 7M370 102l7 -7M378 98.5h7M381.5 95v7M378 95l7 7M378 102l7 -7M386 98.5h7M389.5 95v7M386 95l7 7M386 102l7 -7M394 98.5h7M397.5 95v7M394 95l7 7M394 102l7 -7M402 98.5h7M405.5 95v7M402 95l7 7M402 102l7 -7M410 98.5h7M413.5 95v7M410 95l7 7M410 102l7 -7M418 98.5h7M421.5 95v7M418 95l7 7M418 102l7 -7M426 98.5h7M429.5 95v7M426 95l7 7M426 102l7 -7M434 98.5h7M437.5 95v7M434 95l7 7M434 102l7 -7M442 98.5h7M445.5 95v7M442 95l7 7M442 102l7 -7M451 97.5h7M454.5 94v7M451 94l7 7M451 101l7 -7M459 97.5h7M462.5 94v7M459 94l7 7M459 101l7 -7M467 97.5h7M470.5 94v7M467 94l7 7M467 101l7 -7M475 98.5h7M478.5 95v7M475 95l7 7M475 102l7 -7M483 99.5h7M486.5 96v7M483 96l7 7M483 103l7 -7M491 99.5h7M494.5 96v7M491 96l7 7M491 103l7 -7M499 99.5h7M502.5 96v7M499 96l7 7M499 103l7 -7M507 99.5h7M510.5 96v7M507 96l7 7M507 103l7 -7M515 100.5h7M518.5 97v7M515 97l7 7M515 104l7 -7M523 100.5h7M526.5 97v7M523 97l7 7M523 104l7 -7M531 100.5h7M534.5 97v7M531 97l7 7M531 104l7 -7M540 100.5h7M543.5 97v7M540 97l7 7M540 104l7 -7M548 100.5h7M551.5 97v7M548 97l7 7M548 104l7 -7M556 99.5h7M559.5 96v7M556 96l7 7M556 103l7 -7M564 99.5h7M567.5 96v7M564 96l7 7M564 103l7 -7M572 100.5h7M575.5 97v7M572 97l7 7M572 104l7 -7M580 100.5h7M583.5 97v7M580 97l7 7M580 104l7 -7M588 100.5h7M591.5 97v7M588 97l7 7M588 104l7 -7M596 99.5h7M599.5 96v7M596 96l7 7M596 103l7 -7M604 98.5h7M607.5 95v7M604 95l7 7M604 102l7 -7M612 97.5h7M615.5 94v7M612 94l7 7M612 101l7 -7M621 97.5h7M624.5 94v7M621 94l7 7M621 101l7 -7M629 97.5h7M632.5 94v7M629 94l7 7M629 101l7 -7M637 98.5h7M640.5 95v7M637 95l7 7M637 102l7 -7M645 99.5h7M648.5 96v7M645 96l7 7M645 103l7 -7M653 99.5h7M656.5 96v7M653 96l7 7M653 103l7 -7M661 100.5h7M664.5 97v7M661 97l7 7M661 104l7 -7M669 99.5h7M672.5 96v7M669 96l7 7M669 103l7 -7M677 98.5h7M680.5 95v7M677 95l7 7M677 102l7 -7M685 98.5h7M688.5 95v7M685 95l7 7M685 102l7 -7M693 98.5h7M696.5 95v7M693 95l7 7M693 102l7 -7M701 98.5h7M704.5 95v7M701 95l7 7M701 102l7 -7M710 100.5h7M713.5 97v7M710 97l7 7M710 104l7 -7M718 103.5h7M721.5 100v7M718 100l7 7M718 107l7 -7M726 105.5h7M729.5 102v7M726 102l7 7M726 109l7 -7M734 104.5h7M737.5 101v7M734 101l7 7M734 108l7 -7M742 100.5h7M745.5 97v7M742 97l7 7M742 104l7 -7M750 97.5h7M753.5 94v7M750 94l7 7M750 101l7 -7M758 96.5h7M761.5 93v7M758 93l7 7M758 100l7 -7M766 96.5h7M769.5 93v7M766 93l7 7M766 100l7 -7M774 96.5h7M777.5 93v7M774 93l7 7M774 100l7 -7M782 96.5h7M785.5 93v7M782 93l7 7M782 100l7 -7M790 95.5h7M793.5 92v7M790 92l7 7M790 99l7 -7M799 95.5h7M802.5 92v7M799 92l7 7M799 99l7 -7M807 95.5h7M810.5 92v7M807 92l7 7M807 99l7 -7M815 96.5h7M818.5 93v7M815 93l7 7M815 100l7 -7M823 96.5h7M826.5 93v7M823 93l7 7M823 100l7 -7M831 97.5h7M834.5 94v7M831 94l7 7M831 101l7 -7M839 96.5h7M842.5 93v7M839 93l7 7M839 100l7 -7M847 94.5h7M850.5 91v7M847 91l7 7M847 98l7 -7M855 107.5h7M858.5 104v7M855 104l7 7M855 111l7 -7" stroke="#56b4e9" stroke-width="1" fill="none"/>
<path d="M57.5 393.5v-5M57.5 36.5v5M145.5 393.5v-5M145.5 36.5v5M233.5 393.5v-5M233.5 36.5v5M321.5 393.5v-5M321.5 36.5v5M409.5 393.5v-5M409.5 36.5v5M498.5 393.5v-5M498.5 36.5v5M586.5 393.5v-5M586.5 36.5v5M674.5 393.5v-5M674.5 36.5v5M762.5 393.5v-5M762.5 36.5v5M850.5 393.5v-5M850.5 36.5v5M938.5 393.5v-5M938.5 36.5v5M57.5 393.5h5M938.5 393.5h-5M57.5 333.5h5M938.5 333.5h-5M57.5 274.5h5M938.5 274.5h-5M57.5 214.5h5M938.5 214.5h-5M57.5 155.5h5M938.5 155.5h-5M57.5 95.5h5M938.5 95.5h-5M57.5 36.5h5M938.5 36.5h-5" stroke="#000" stroke-width="1" fill="none"/>
<rect x="57.5" y="36.5" width="881.0" height="357.0" fill="none" stroke="#000" stroke-width="1"/>
<g font-family="Liberation Sans, sans-serif" font-size="12" fill="#000">
<text x="49.5" y="396" text-anchor="end">2.7</text>
<text x="49.5" y="336" text-anchor="end">2.8</text>
<text x="49.5" y="277" text-anchor="end">2.9</text>
<text x="49.5" y="217" text-anchor="end">3</text>
<text x="49.5" y="158" text-anchor="end">3.1</text>
<text x="49.5" y="98" text-anchor="end">3.2</text>
<text x="49.5" y="39" text-anchor="end">3.3</text>
<text x="57.1" y="408" text-anchor="middle">0</text>
<text x="145.2" y="408" text-anchor="middle">0.2</text>
<text x="233.3" y="408" text-anchor="middle">0.4</text>
<text x="321.4" y="408" text-anchor="middle">0.6</text>
<text x="409.5" y="408" text-anchor="middle">0.8</text>
<text x="497.6" y="408" text-anchor="middle">1</text>
<text x="585.7" y="408" text-anchor="middle">1.2</text>
<text x="673.8" y="408" text-anchor="middle">1.4</text>
<text x="761.9" y="408" text-anchor="middle">1.6</text>
<text x="850" y="408" text-anchor="middle">1.8</text>
<text x="938.1" y="408" text-anchor="middle">2</text>
<text x="496.55" y="20.75" text-anchor="middle" textLength="167.7" lengthAdjust="spacingAndGlyphs">[doh] HP EX950 2T NVMe Read</text>
<text x="496.75" y="425.5" text-anchor="middle" textLength="61.7" lengthAdjust="spacingAndGlyphs">Offset (TiB)</text>
<text transform="translate(13.2 214.2) rotate(-90)" text-anchor="middle" textLength="107.3" lengthAdjust="spacingAndGlyphs">Read Speed (GiB/s)</text>
</g>
</svg>
</body>
</html>
